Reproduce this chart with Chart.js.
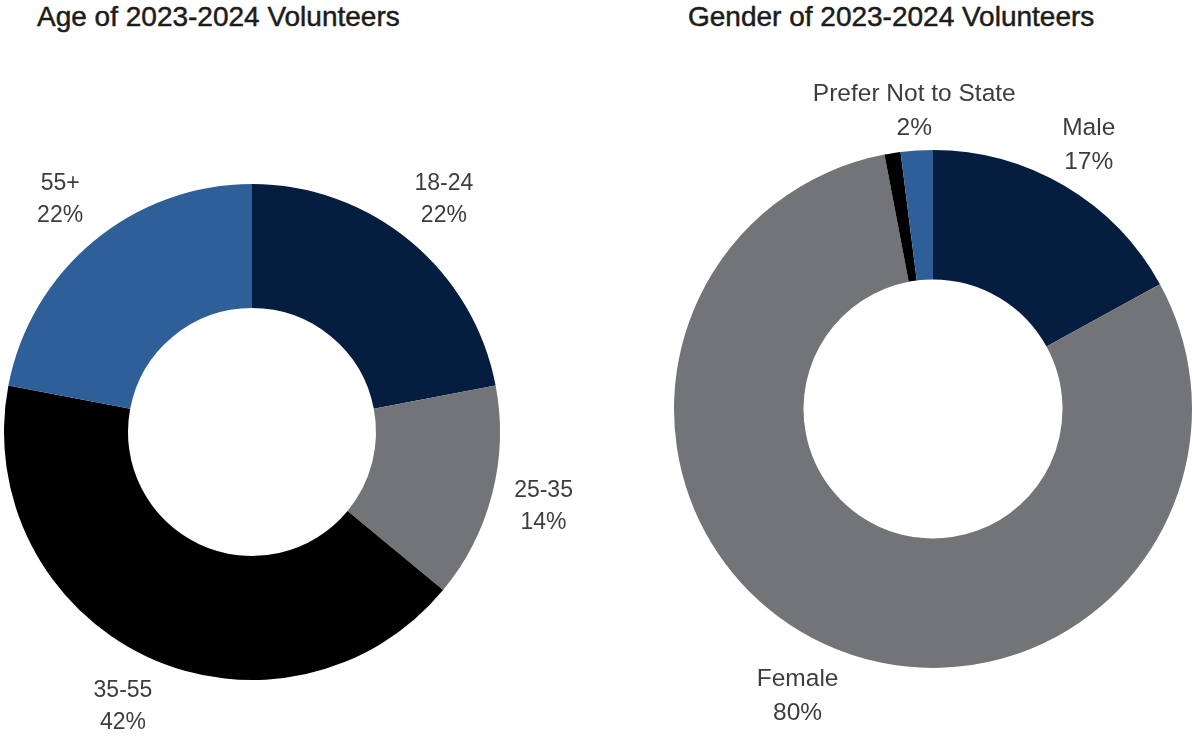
<!DOCTYPE html>
<html>
<head>
<meta charset="utf-8">
<script src="https://cdn.jsdelivr.net/npm/chart.js@4.4.1/dist/chart.umd.min.js"></script>
<style>
  html, body { margin: 0; padding: 0; background: #ffffff; width: 1192px; height: 736px; overflow: hidden; }
  .title { position: absolute; top: 0; font-family: "Liberation Sans", Arial, sans-serif; font-size: 28px; color: #1c1c1c; white-space: nowrap; line-height: 34px; -webkit-text-stroke: 0.5px #1c1c1c; }
  .box { position: absolute; top: 60px; height: 676px; }
</style>
</head>
<body>
<div class="title" id="t1" style="left:37px;">Age of 2023-2024 Volunteers</div>
<div class="title" id="t2" style="left:688px;">Gender of 2023-2024 Volunteers</div>
<div class="box" style="left:0px;width:600px;"><canvas id="age"></canvas></div>
<div class="box" style="left:600px;width:592px;"><canvas id="gender"></canvas></div>
<script>
// ---- data ----
const ageCategories = ['18-24', '25-35', '35-55', '55+'];
const ageValues = [22, 14, 42, 22];
const ageColors = ['#051e40', '#737478', '#000000', '#2e5f98'];

const genderCategories = ['Male', 'Female', 'Other', 'Prefer Not to State'];
const genderValues = [17, 80, 1, 2];
const genderShownLabels = [true, true, false, true];
const genderColors = ['#051e40', '#737478', '#000000', '#2e5f98'];

// ---- label plugin: two-line labels placed along each slice's mid-angle ----
const sliceLabels = {
  id: 'sliceLabels',
  afterDatasetsDraw(chart, args, opts) {
    const meta = chart.getDatasetMeta(0);
    const ds = chart.data.datasets[0];
    const ctx = chart.ctx;
    ctx.save();
    ctx.fillStyle = opts.color;
    ctx.font = opts.fontSize + 'px "Liberation Sans", Arial, sans-serif';
    ctx.textAlign = 'center';
    ctx.textBaseline = 'middle';
    meta.data.forEach((arc, i) => {
      if (opts.show && !opts.show[i]) return;
      const mid = (arc.startAngle + arc.endAngle) / 2;
      const r = arc.outerRadius + opts.offsets[i];
      const x = arc.x + Math.cos(mid) * r;
      const y = arc.y + Math.sin(mid) * r;
      ctx.fillText(chart.data.labels[i], x, y - opts.lineGap / 2);
      ctx.fillText(ds.data[i] + '%', x, y + opts.lineGap / 2);
    });
    ctx.restore();
  }
};

function makeDoughnut(id, labels, values, colors, padding, labelOpts) {
  return new Chart(document.getElementById(id), {
    type: 'doughnut',
    data: {
      labels: labels,
      datasets: [{ data: values, backgroundColor: colors, borderWidth: 0, hoverOffset: 0 }]
    },
    options: {
      responsive: true,
      maintainAspectRatio: false,
      animation: false,
      cutout: '50%',
      layout: { padding: padding },
      plugins: {
        legend: { display: false },
        tooltip: { enabled: false },
        sliceLabels: labelOpts
      }
    },
    plugins: [sliceLabels]
  });
}

makeDoughnut('age', ageCategories, ageValues, ageColors,
  { left: 4, top: 124, right: 100, bottom: 56 },
  { color: '#3d3d3d', fontSize: 23, lineGap: 32, offsets: [53, 53, 55, 53] });

makeDoughnut('gender', genderCategories, genderValues, genderColors,
  { left: 74, top: 90, right: 0, bottom: 68 },
  { color: '#3d3d3d', fontSize: 24.5, lineGap: 34, offsets: [47, 59, 0, 39], show: genderShownLabels });
</script>
</body>
</html>
